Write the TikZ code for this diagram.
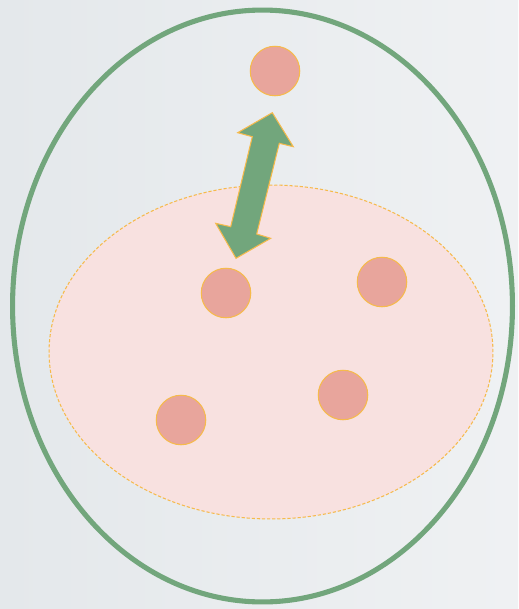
\documentclass[tikz,border=0pt]{standalone}
\usepackage{tikz}
\usetikzlibrary{shapes.geometric}

\definecolor{cellgreen}{HTML}{72A67C}
\definecolor{dotfill}{HTML}{E8A59C}
\definecolor{rimorange}{HTML}{F6BA4C}
\definecolor{poolfill}{HTML}{F8E1E0}
\definecolor{bgleft}{HTML}{E4E8EB}
\definecolor{bgright}{HTML}{EFF1F3}

\tikzset{
  dot/.style={circle, draw=rimorange, line width=0.6pt, fill=dotfill, minimum size=0.99cm, inner sep=0pt}
}

\begin{document}
\begin{tikzpicture}[x=0.02cm, y=-0.02cm]
\useasboundingbox (0,0) rectangle (518,609);
\shade[left color=bgleft, right color=bgright] (0,0) rectangle (518,609);

\node (cell) [ellipse, draw=cellgreen, line width=2.9pt, minimum width=10cm, minimum height=11.84cm, inner sep=0pt] at (262.5,306) {};
\node (pool) [ellipse, draw=rimorange, fill=poolfill, line width=0.6pt, dash pattern=on 1.8pt off 1.1pt, minimum width=8.88cm, minimum height=6.68cm, inner sep=0pt] at (271,352) {};

\node (outside) [dot] at (275,71) {};
\node (inA) [dot] at (226,293) {};
\node (inB) [dot] at (382,282) {};
\node (inC) [dot] at (343,395) {};
\node (inD) [dot] at (181,420) {};

% exchange arrow
\draw[draw=rimorange, fill=cellgreen, line width=0.6pt, line join=miter]
  (272.3,112.7) -- (293.3,146.7) -- (279.3,143.3) -- (256.7,234) -- (270.7,238.3)
  -- (236,258.3) -- (215.7,223.3) -- (230.7,226.7) -- (252.3,136.7) -- (237.7,132.7) -- cycle;
\end{tikzpicture}
\end{document}
